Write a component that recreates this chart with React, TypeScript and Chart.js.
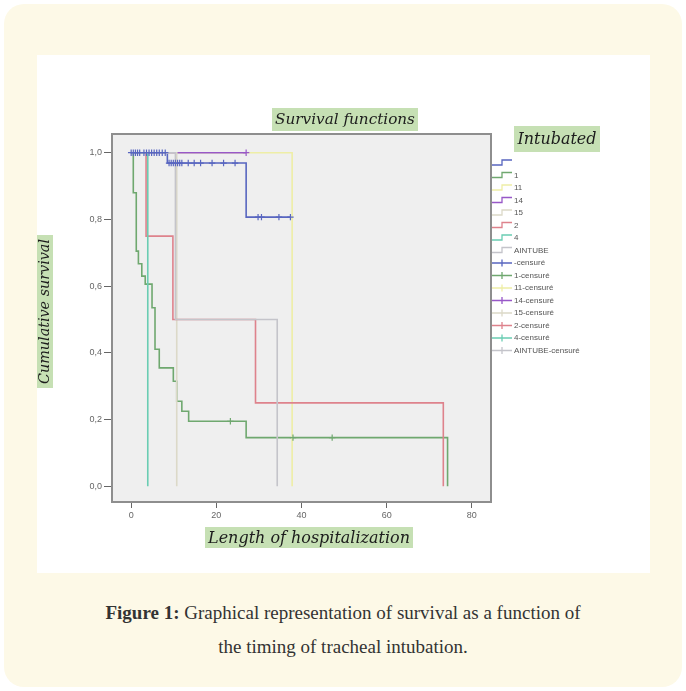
import React, { useEffect, useRef } from 'react';
import { Chart, registerables } from 'chart.js';

Chart.register(...registerables);

// ---- Data ----
const xTickValues = [0, 20, 40, 60, 80];
const yTickValues = [0, 0.2, 0.4, 0.6, 0.8, 1.0];

const groupLabels = ['', '1', '11', '14', '15', '2', '4', 'AINTUBE'];
const groupColors = ['#5866c0', '#6fa86f', '#eeeea6', '#9858c8', '#dcd9c8', '#de828c', '#6acdb3', '#c4c4ca'];

const timesBlank = [0, 8.5, 27, 37.4];
const survBlank = [1, 0.969, 0.807, 0.807];
const timesG1 = [0, 0.5, 1.2, 1.7, 2.5, 3.3, 4.9, 5.6, 6.6, 9.9, 10.7, 11.9, 13.5, 27, 74.3];
const survG1 = [1, 0.88, 0.705, 0.667, 0.63, 0.606, 0.535, 0.411, 0.355, 0.315, 0.255, 0.225, 0.195, 0.146, 0];
const timesG11 = [0, 37.8];
const survG11 = [1, 0];
const timesG14 = [0, 27];
const survG14 = [1, 1];
const timesG15 = [0, 10.7];
const survG15 = [1, 0];
const timesG2 = [0, 3.5, 9.8, 29.2, 73.3];
const survG2 = [1, 0.75, 0.5, 0.25, 0];
const timesG4 = [0, 3.9];
const survG4 = [1, 0];
const timesAintube = [0, 10.4, 34.3];
const survAintube = [1, 0.5, 0];

const censorTimesBlank = [0, 0.5, 1, 1.5, 2, 3, 3.6, 4.2, 4.8, 5.4, 6, 6.6, 7.3, 8,
  8.9, 9.4, 9.9, 10.4, 10.9, 11.4, 11.9, 13.4, 14.8, 16.3, 19.0, 21.7, 24.4,
  29.8, 30.6, 34.7, 37.4];
const censorSurvBlank = [1, 1, 1, 1, 1, 1, 1, 1, 1, 1, 1, 1, 1, 1,
  0.969, 0.969, 0.969, 0.969, 0.969, 0.969, 0.969, 0.969, 0.969, 0.969, 0.969, 0.969, 0.969,
  0.807, 0.807, 0.807, 0.807];
const censorTimesG1 = [23.3, 38, 47.2];
const censorSurvG1 = [0.195, 0.146, 0.146];
const censorTimesG14 = [27];
const censorSurvG14 = [1];

const curveTimes = [timesBlank, timesG1, timesG11, timesG14, timesG15, timesG2, timesG4, timesAintube];
const curveSurv = [survBlank, survG1, survG11, survG14, survG15, survG2, survG4, survAintube];
const censorTimes = [censorTimesBlank, censorTimesG1, [], censorTimesG14, [], [], [], []];
const censorSurv = [censorSurvBlank, censorSurvG1, [], censorSurvG14, [], [], [], []];

const GREEN = '#c6e0b4';

function fitFont(ctx: CanvasRenderingContext2D, text: string, width: number, family: string, style: string) {
  ctx.font = `${style} 20px ${family}`;
  const w = ctx.measureText(text).width;
  const size = (20 * width) / w;
  ctx.font = `${style} ${size}px ${family}`;
}

function labelBox(ctx: CanvasRenderingContext2D, text: string, x: number, y: number, w: number, h: number, textW: number, rotate = false) {
  ctx.save();
  ctx.fillStyle = GREEN;
  ctx.fillRect(x, y, w, h);
  ctx.fillStyle = '#1c1c1c';
  fitFont(ctx, text, textW, '"DejaVu Serif"', 'italic');
  ctx.textAlign = 'center';
  ctx.textBaseline = 'middle';
  if (rotate) {
    ctx.translate(x + w / 2 + 1, y + h / 2);
    ctx.rotate(-Math.PI / 2);
    ctx.fillText(text, 0, 0);
  } else {
    ctx.fillText(text, x + w / 2, y + h / 2 + 1);
  }
  ctx.restore();
}

const decorPlugin = {
  id: 'decor',
  beforeDraw(chart: any) {
    const { ctx, chartArea: a } = chart;
    ctx.save();
    ctx.fillStyle = '#efefef';
    ctx.fillRect(a.left, a.top, a.right - a.left, a.bottom - a.top);
    ctx.restore();
  },
  afterDraw(chart: any) {
    const { ctx, chartArea: a } = chart;
    ctx.save();
    ctx.strokeStyle = '#8e8e8e';
    ctx.lineWidth = 2;
    ctx.strokeRect(a.left, a.top, a.right - a.left, a.bottom - a.top);
    ctx.restore();

    labelBox(ctx, 'Survival functions', a.left + 160, a.top - 26, 146, 23, 140);
    labelBox(ctx, 'Intubated', a.right + 23, a.top - 8, 86, 26, 79);
    labelBox(ctx, 'Length of hospitalization', a.left + 93, a.bottom + 25, 208, 21, 202);
    labelBox(ctx, 'Cumulative survival', a.left - 76, a.top + 101, 17, 153, 145, true);

    // legend
    const lx = a.right + 1;
    let ly = a.top + 29;
    const step = 12.5;
    ctx.save();
    ctx.font = '8px "Liberation Sans"';
    ctx.textBaseline = 'middle';
    ctx.textAlign = 'left';
    ctx.lineWidth = 1.3;
    groupLabels.forEach((lab, i) => {
      ctx.strokeStyle = groupColors[i];
      ctx.beginPath();
      ctx.moveTo(lx, ly + 2);
      ctx.lineTo(lx + 10, ly + 2);
      ctx.lineTo(lx + 10, ly - 3);
      ctx.lineTo(lx + 20, ly - 3);
      ctx.stroke();
      ctx.fillStyle = '#555';
      ctx.fillText(lab, lx + 22, ly);
      ly += step;
    });
    groupLabels.forEach((lab, i) => {
      ctx.strokeStyle = groupColors[i];
      ctx.beginPath();
      ctx.moveTo(lx, ly);
      ctx.lineTo(lx + 20, ly);
      ctx.moveTo(lx + 10, ly - 3.5);
      ctx.lineTo(lx + 10, ly + 3.5);
      ctx.moveTo(lx + 6.5, ly);
      ctx.lineTo(lx + 13.5, ly);
      ctx.stroke();
      ctx.fillStyle = '#555';
      ctx.fillText(lab + '-censuré', lx + 22, ly);
      ly += step;
    });
    ctx.restore();
  },
};

export default function App() {
  const canvasRef = useRef<HTMLCanvasElement | null>(null);

  useEffect(() => {
    if (!canvasRef.current) return;
    const datasets: any[] = [];
    groupLabels.forEach((lab, i) => {
      datasets.push({
        label: lab,
        data: curveTimes[i].map((t, k) => ({ x: t, y: curveSurv[i][k] })),
        showLine: true,
        stepped: 'before',
        borderColor: groupColors[i],
        borderWidth: 1.6,
        pointRadius: 0,
        fill: false,
      });
    });
    groupLabels.forEach((lab, i) => {
      datasets.push({
        label: lab + '-censuré',
        data: censorTimes[i].map((t, k) => ({ x: t, y: censorSurv[i][k] })),
        showLine: false,
        pointStyle: 'cross',
        pointRadius: 3.2,
        borderColor: groupColors[i],
        backgroundColor: groupColors[i],
        borderWidth: 1.2,
      });
    });
    // censor marks drawn above the curves
    datasets.reverse();

    const chart = new Chart(canvasRef.current, {
      type: 'scatter',
      data: { datasets },
      plugins: [decorPlugin],
      options: {
        animation: false,
        responsive: true,
        maintainAspectRatio: false,
        layout: { padding: { left: 25, right: 159, top: 79, bottom: 41 } },
        plugins: { legend: { display: false }, tooltip: { enabled: false } },
        scales: {
          x: {
            type: 'linear',
            min: -4.5,
            max: 84.5,
            afterBuildTicks: (axis: any) => {
              axis.ticks = xTickValues.map((v) => ({ value: v }));
            },
            afterFit: (s: any) => {
              s.height = 30;
            },
            border: { display: false },
            grid: { drawOnChartArea: false, drawTicks: true, tickLength: 6, color: '#666', lineWidth: 1 },
            ticks: { font: { size: 9, family: 'Liberation Sans' }, color: '#666', padding: 2, maxRotation: 0, callback: (v: any) => String(v) },
          },
          y: {
            type: 'linear',
            min: -0.047,
            max: 1.056,
            afterBuildTicks: (axis: any) => {
              axis.ticks = yTickValues.map((v) => ({ value: v }));
            },
            afterFit: (s: any) => {
              s.width = 50;
            },
            border: { display: false },
            grid: { drawOnChartArea: false, drawTicks: true, tickLength: 8, color: '#666', lineWidth: 1 },
            ticks: {
              font: { size: 9, family: 'Liberation Sans' },
              color: '#666',
              padding: 2,
              callback: (v: any) => Number(v).toFixed(1).replace('.', ','),
            },
          },
        },
      },
    });
    return () => chart.destroy();
  }, []);

  return (
    <div
      style={{
        position: 'absolute',
        left: 4,
        top: 4,
        width: 678,
        height: 683,
        background: '#fdf9e7',
        borderRadius: 20,
      }}
    >
      <div
        style={{
          position: 'absolute',
          left: 33,
          top: 51,
          width: 613,
          height: 518,
          background: '#ffffff',
        }}
      >
        <canvas ref={canvasRef} />
      </div>
      <div
        style={{
          position: 'absolute',
          left: 0,
          top: 592,
          width: 678,
          textAlign: 'center',
          fontFamily: '"Liberation Serif", serif',
          fontSize: 19,
          lineHeight: '34px',
          color: '#333',
        }}
      >
        <b>Figure 1:</b> Graphical representation of survival as a function of
        <br />
        the timing of tracheal intubation.
      </div>
    </div>
  );
}
